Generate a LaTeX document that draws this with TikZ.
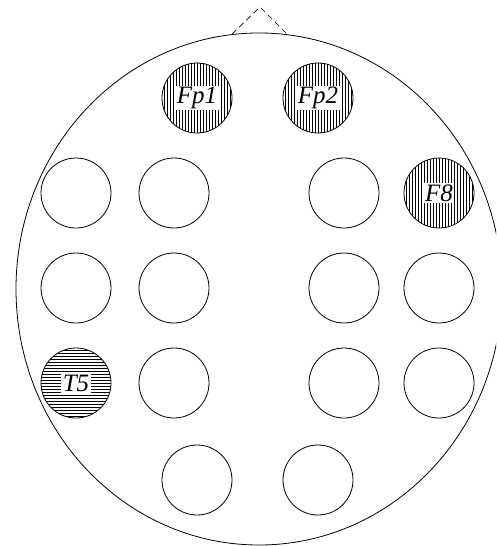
\documentclass[tikz,border=0pt]{standalone}
\usepackage{fontspec}
\setmainfont{Liberation Serif}
\tikzset{
  electrode/.style={draw, circle, line width=0.8pt, minimum size=70pt, inner sep=0pt},
  vhatch/.style={electrode, path picture={
      \foreach \i in {-36,-33,...,36}
        \draw[line width=0.9pt] ([xshift=\i pt]path picture bounding box.north) -- ([xshift=\i pt]path picture bounding box.south);}},
  hhatch/.style={electrode, path picture={
      \foreach \i in {-36,-33,...,36}
        \draw[line width=0.9pt] ([yshift=\i pt]path picture bounding box.west) -- ([yshift=\i pt]path picture bounding box.east);}},
  elabel/.style={fill=white, inner xsep=1.5pt, inner ysep=1.5pt, font=\fontsize{25pt}{28pt}\selectfont\itshape},
  nose/.style={dashed, dash pattern=on 6pt off 4pt, line width=0.7pt}
}
\begin{document}
\begin{tikzpicture}[x=1pt,y=-1pt]
\useasboundingbox (0,0) rectangle (496,546);
\clip (0,0) rectangle (496,546);
\draw[line width=0.8pt] (259,289) ellipse [x radius=243pt, y radius=256pt];
\coordinate (nl) at (232,34);
\coordinate (nt) at (260,7);
\coordinate (nr) at (286,33);
\draw[nose] (nl) -- (nt) -- (nr);
% row 1
\node[vhatch] (fp1) at (197,98) {};
\node[vhatch] (fp2) at (318,98) {};
\node[elabel] (lfp1) at (fp1) {Fp1};
\node[elabel] (lfp2) at (fp2) {Fp2};
% row 2
\node[electrode] (a1) at (76,193) {};
\node[electrode] (a2) at (174,193) {};
\node[electrode] (a3) at (344,193) {};
\node[vhatch] (f8) at (439,193) {};
\node[elabel] (lf8) at (f8) {F8};
% row 3
\node[electrode] (b1) at (76,288) {};
\node[electrode] (b2) at (174,288) {};
\node[electrode] (b3) at (344,288) {};
\node[electrode] (b4) at (439,288) {};
% row 4
\node[hhatch] (t5) at (76,383) {};
\node[elabel] (lt5) at (t5) {T5};
\node[electrode] (c2) at (174,383) {};
\node[electrode] (c3) at (344,383) {};
\node[electrode] (c4) at (439,383) {};
% row 5
\node[electrode] (d1) at (197,480) {};
\node[electrode] (d2) at (318,480) {};
\end{tikzpicture}
\end{document}
